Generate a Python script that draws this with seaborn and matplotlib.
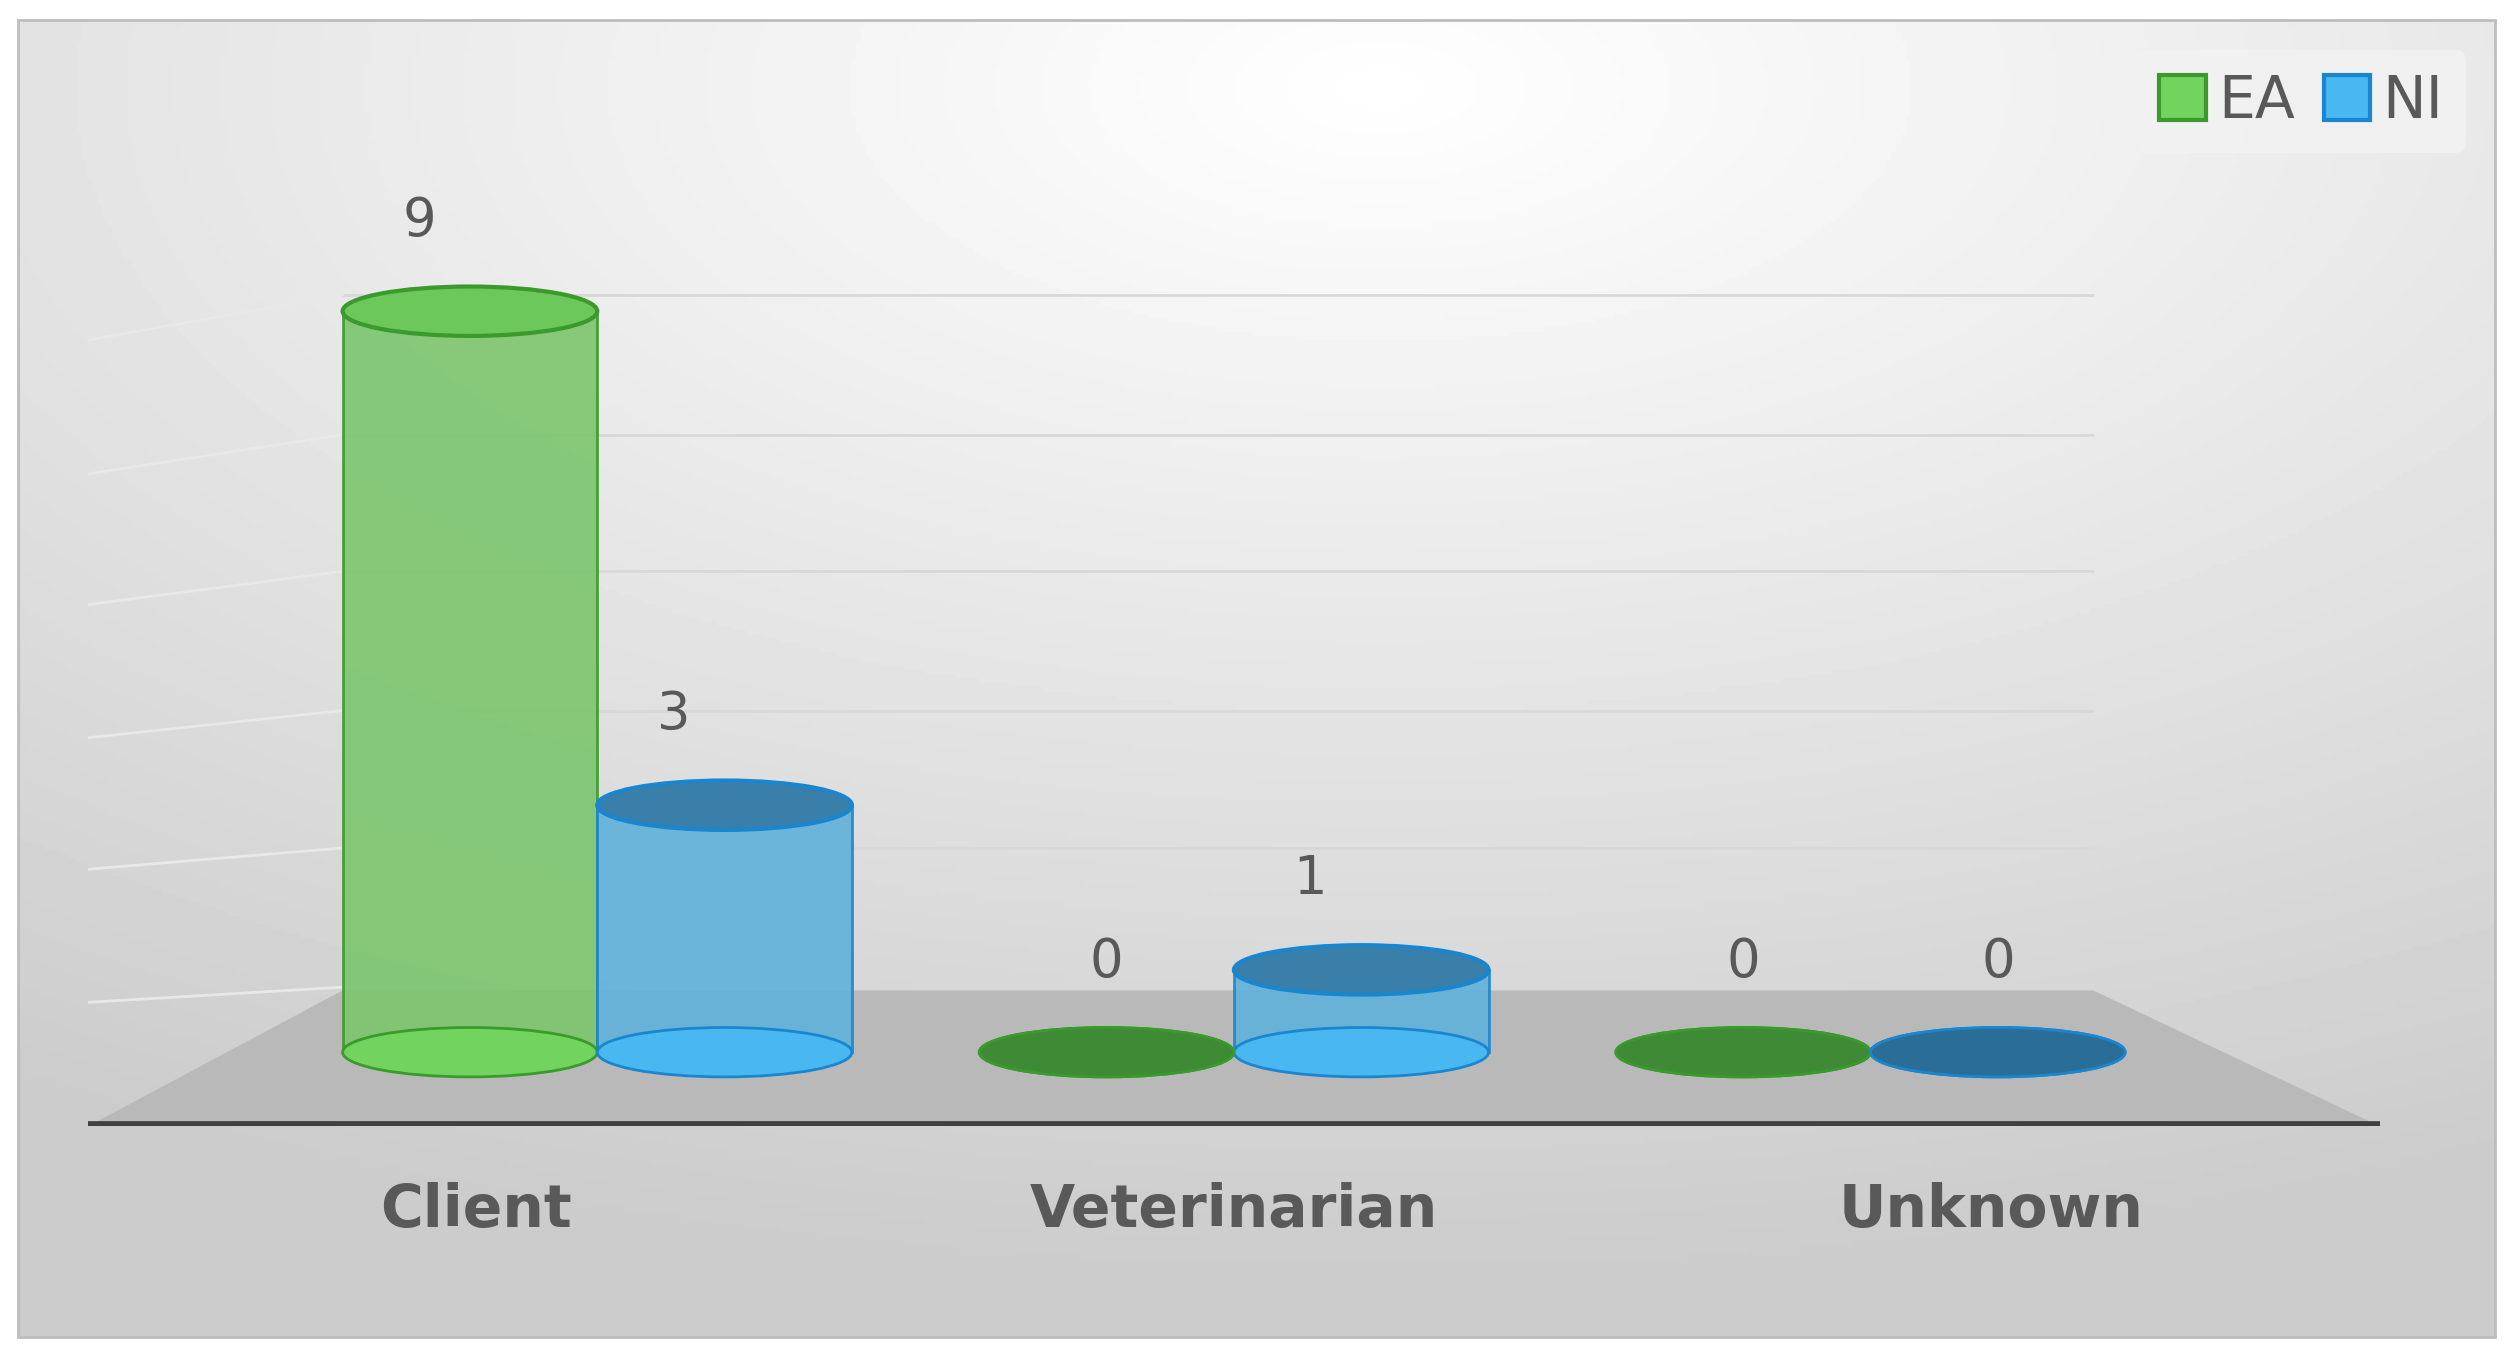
import numpy as np
import pandas as pd
import matplotlib
matplotlib.use("Agg")
import matplotlib.pyplot as plt
import seaborn as sns
from matplotlib.patches import Ellipse, Rectangle, Polygon, Patch

categories = ["Client", "Veterinarian", "Unknown"]
series = ["EA", "NI"]
ea_values = [9, 0, 0]
ni_values = [3, 1, 0]

df = pd.DataFrame({
    "category": categories * 2,
    "series": ["EA"] * 3 + ["NI"] * 3,
    "value": ea_values + ni_values,
})

sns.set_theme(style="white")
plt.rcParams['font.family'] = ['DejaVu Sans']

fig = plt.figure(figsize=(25.13, 13.57), dpi=100)

bg = fig.add_axes([0, 0, 1, 1], zorder=-10)
yy, xx = np.mgrid[0:1:300j, 0:1:500j]
r = np.sqrt(((xx - 0.55) / 1.0) ** 2 + ((yy - 0.05) / 0.9) ** 2)
img = 1.0 - 0.2 * np.clip(r, 0, 1)
bg.imshow(img, cmap="gray", vmin=0, vmax=1, extent=[0.007, 0.993, 0.015, 0.985],
          origin="upper", aspect="auto")
bg.add_patch(Rectangle((0.007, 0.015), 0.986, 0.97, fill=False, ec="#bdbdbd", lw=2))
bg.set_xlim(0, 1); bg.set_ylim(0, 1); bg.axis("off")

ax = fig.add_axes([0.035, 0.17, 0.912, 0.722])
ax.patch.set_alpha(0)
colors = {"EA": "#72d45e", "NI": "#4ab8f0"}
tops = {"EA": "#6cc85a", "NI": "#3a7faa"}
edges = {"EA": "#3a9a2c", "NI": "#1a86cf"}
sns.barplot(data=df, x="category", y="value", hue="series", palette=colors,
            width=0.8, ax=ax, legend=False, alpha=0.9, zorder=3)
ax.set_xlim(-0.80, 2.80)
ax.set_ylim(-0.9, 11)

ax.add_patch(Polygon([[-0.80, -0.9], [2.80, -0.9], [2.35, 0.75], [-0.40, 0.75]],
                     closed=True, fc="#b9b9b9", ec="none", zorder=1))
for g in [0.79, 2.48, 4.15, 5.84, 7.5, 9.2]:
    ax.plot([-0.40, 2.35], [g, g], color="#d8d8d8", lw=2, zorder=0)
    ax.plot([-0.80, -0.40], [g - 0.15 - 0.4 * (g / 9.2), g], color="#e8e8e8", lw=2, zorder=0)
ax.axhline(-0.9, color="#404040", lw=7, zorder=2)

eh = 0.6
for container, s in zip(ax.containers, series):
    for p in container:
        x0, w, h = p.get_x(), p.get_width(), p.get_height()
        p.set_edgecolor(edges[s]); p.set_linewidth(2)
        cx = x0 + w / 2
        ax.add_patch(Ellipse((cx, 0), w, eh, fc=colors[s], ec=edges[s], lw=2, zorder=3.5))
        if h > 0:
            ax.add_patch(Ellipse((cx, h), w, eh, fc=tops[s], ec=edges[s], lw=3, zorder=4))
        else:
            ax.add_patch(Ellipse((cx, 0), w, eh,
                                 fc={"EA": "#3f8a34", "NI": "#2a6d96"}[s], ec=edges[s], lw=2, zorder=4))
        ax.text(cx - 0.08 if h > 0 else cx, h + 1.1, f"{int(h)}", ha="center", va="center",
                fontsize=38, color="#595959", zorder=5)

ax.set_xticks([-0.19, 1, 2.19])
ax.set_xticklabels(categories, fontsize=42, fontweight="bold", color="#595959")
ax.tick_params(axis="x", length=0, pad=40)
ax.set_yticks([])
ax.set_xlabel(""); ax.set_ylabel("")
for sp in ax.spines.values():
    sp.set_visible(False)

handles = [Patch(fc=colors[s], ec=edges[s], lw=3) for s in series]
fig.legend(handles, series, loc="upper right", bbox_to_anchor=(0.993, 0.985), ncol=2,
           fontsize=42, frameon=True, facecolor="#f2f2f2", edgecolor="none",
           handlelength=0.8, handleheight=0.8, columnspacing=0.5, handletextpad=0.2,
           labelcolor="#595959")

fig.savefig("out.png", dpi=100)
